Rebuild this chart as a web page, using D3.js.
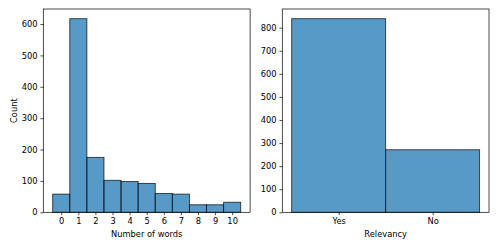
<!DOCTYPE html>
<html>
<head>
<meta charset="utf-8">
<script src="https://cdn.jsdelivr.net/npm/d3@7"></script>
<style>
  body { margin: 0; background: #fff; }
  svg { display: block; }
  text { font-family: "DejaVu Sans", sans-serif; }
</style>
</head>
<body>
<div id="chart"></div>
<script>
// Data.
const wordBins = [0, 1, 2, 3, 4, 5, 6, 7, 8, 9, 10];
const wordCounts = [58, 617, 175, 102, 98, 92, 60, 58, 24, 24, 32];
const wordTicks = [0, 1, 2, 3, 4, 5, 6, 7, 8, 9, 10];
const countTicksLeft = [0, 100, 200, 300, 400, 500, 600];

const relevancyCats = ['Yes', 'No'];
const relevancyCounts = [839, 271];
const countTicksRight = [0, 100, 200, 300, 400, 500, 600, 700, 800];

const W = 498, H = 249;
const FILL = '#1f77b4';
const FONT = 8.3;
const TICK = 2.9;

const svg = d3.select('#chart').append('svg')
  .attr('width', W).attr('height', H);

const plotTop = 9, plotBottom = 212.3;

function styleAxis(g) {
  g.selectAll('path.domain').remove();
  g.selectAll('line').attr('stroke', '#000').attr('stroke-width', 0.7);
  g.selectAll('text').attr('font-size', FONT).attr('fill', '#000')
    .attr('font-family', '"DejaVu Sans", sans-serif');
}

function frame(x0, x1) {
  svg.append('rect')
    .attr('x', x0).attr('y', plotTop)
    .attr('width', x1 - x0).attr('height', plotBottom - plotTop)
    .attr('fill', 'none').attr('stroke', '#000').attr('stroke-width', 0.7);
}

// ------------------------------------------------------------------
// Left panel: histogram of number of words
// ------------------------------------------------------------------
{
  const x0 = 43.3, x1 = 250.1;
  const x = d3.scaleLinear().domain([-1.05, 11.05]).range([x0, x1]);
  const y = d3.scaleLinear().domain([0, d3.max(wordCounts) * 1.05]).range([plotBottom, plotTop]);

  svg.append('g').selectAll('rect')
    .data(wordBins.map((b, i) => ({ b, c: wordCounts[i] })))
    .join('rect')
    .attr('x', d => x(d.b - 0.5))
    .attr('width', d => x(d.b + 0.5) - x(d.b - 0.5))
    .attr('y', d => y(d.c))
    .attr('height', d => y(0) - y(d.c))
    .attr('fill', FILL).attr('fill-opacity', 0.75)
    .attr('stroke', '#000').attr('stroke-opacity', 0.75).attr('stroke-width', 0.9);

  frame(x0, x1);

  svg.append('g').attr('transform', `translate(0,${plotBottom})`)
    .call(d3.axisBottom(x).tickValues(wordTicks).tickSize(TICK).tickPadding(TICK))
    .call(styleAxis);
  svg.append('g').attr('transform', `translate(${x0},0)`)
    .call(d3.axisLeft(y).tickValues(countTicksLeft).tickSize(TICK).tickPadding(TICK))
    .call(styleAxis);

  svg.append('text')
    .attr('x', (x0 + x1) / 2).attr('y', 236.5)
    .attr('text-anchor', 'middle').attr('font-size', FONT)
    .text('Number of words');
  svg.append('text')
    .attr('transform', `translate(16.5,${(plotTop + plotBottom) / 2}) rotate(-90)`)
    .attr('text-anchor', 'middle').attr('font-size', FONT)
    .text('Count');
}

// ------------------------------------------------------------------
// Right panel: relevancy counts
// ------------------------------------------------------------------
{
  const x0 = 282.3, x1 = 489;
  const x = d3.scaleLinear().domain([-0.6, 1.6]).range([x0, x1]);
  const y = d3.scaleLinear().domain([0, d3.max(relevancyCounts) * 1.05]).range([plotBottom, plotTop]);

  svg.append('g').selectAll('rect')
    .data(relevancyCats.map((c, i) => ({ i, c: relevancyCounts[i] })))
    .join('rect')
    .attr('x', d => x(d.i - 0.5))
    .attr('width', d => x(d.i + 0.5) - x(d.i - 0.5))
    .attr('y', d => y(d.c))
    .attr('height', d => y(0) - y(d.c))
    .attr('fill', FILL).attr('fill-opacity', 0.75)
    .attr('stroke', '#000').attr('stroke-opacity', 0.75).attr('stroke-width', 0.9);

  frame(x0, x1);

  svg.append('g').attr('transform', `translate(0,${plotBottom})`)
    .call(d3.axisBottom(x).tickValues([0, 1]).tickFormat(i => relevancyCats[i])
      .tickSize(TICK).tickPadding(TICK))
    .call(styleAxis);
  svg.append('g').attr('transform', `translate(${x0},0)`)
    .call(d3.axisLeft(y).tickValues(countTicksRight).tickSize(TICK).tickPadding(TICK))
    .call(styleAxis);

  svg.append('text')
    .attr('x', (x0 + x1) / 2).attr('y', 236.5)
    .attr('text-anchor', 'middle').attr('font-size', FONT)
    .text('Relevancy');
}
</script>
</body>
</html>
